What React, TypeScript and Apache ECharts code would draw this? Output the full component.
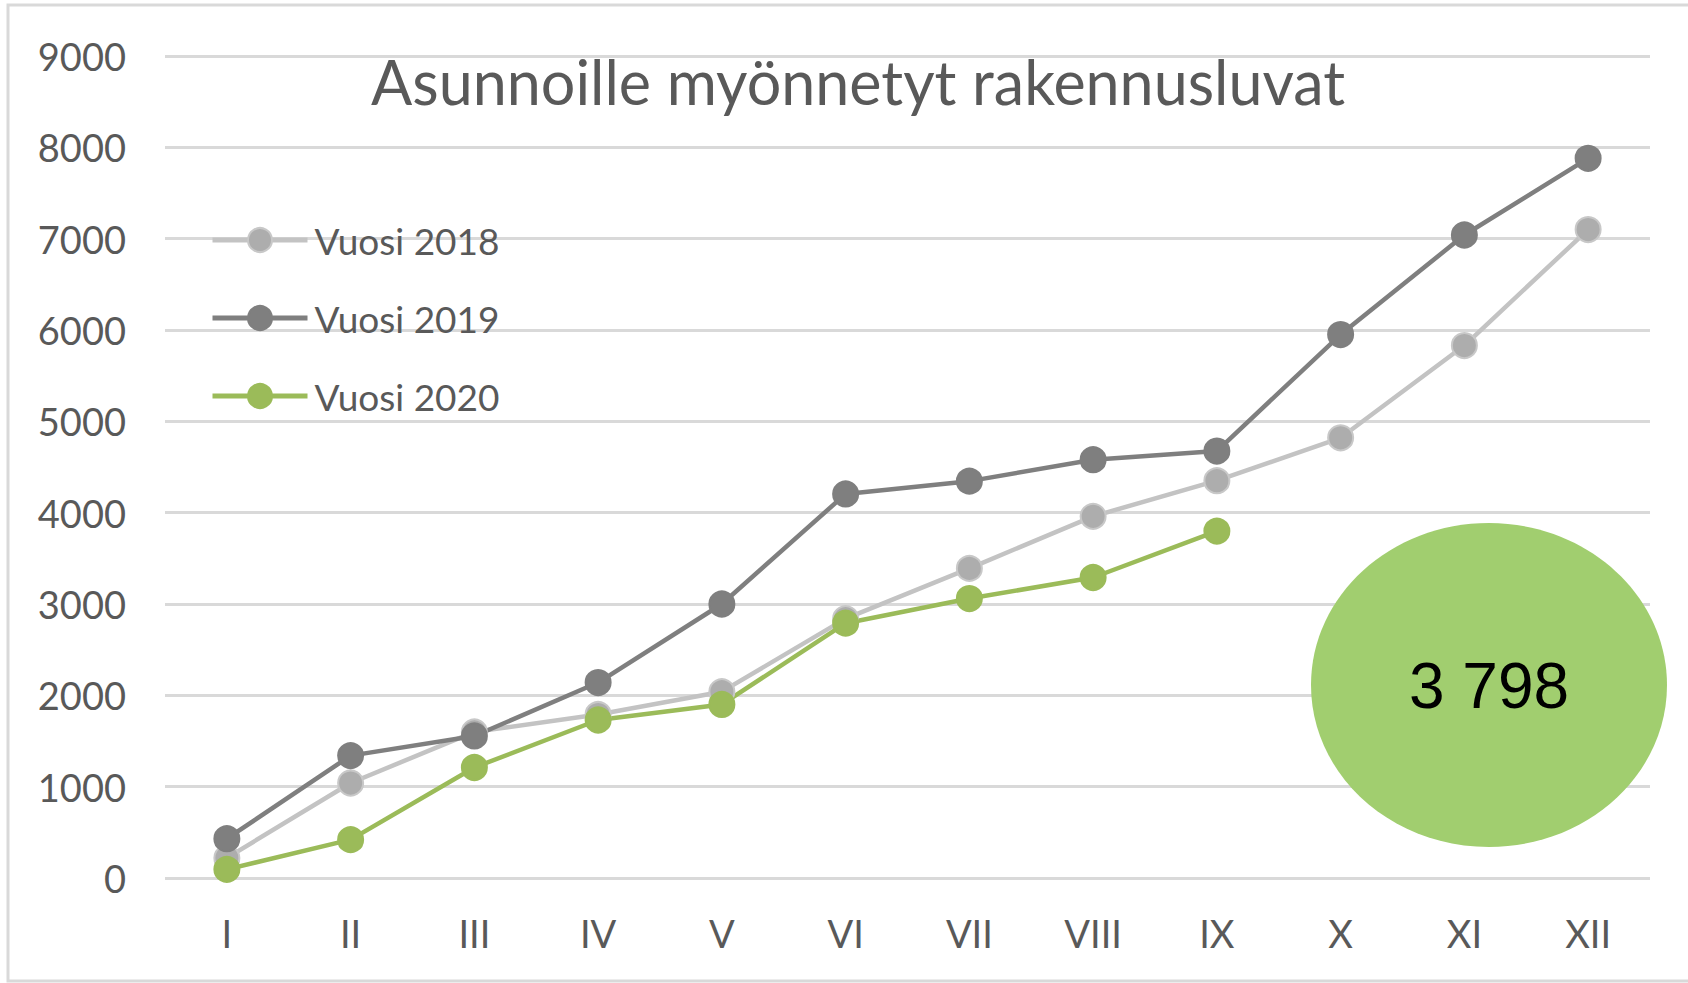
import React, { useEffect, useRef } from "react";
import * as echarts from "echarts";

const months = ["I", "II", "III", "IV", "V", "VI", "VII", "VIII", "IX", "X", "XI", "XII"];
const seriesNames = ["Vuosi 2018", "Vuosi 2019", "Vuosi 2020"];
const values2018 = [220, 1040, 1600, 1790, 2040, 2840, 3390, 3960, 4350, 4820, 5830, 7100];
const values2019 = [430, 1340, 1555, 2140, 3000, 4205, 4345, 4580, 4675, 5950, 7040, 7880];
const values2020 = [95, 420, 1210, 1730, 1900, 2790, 3060, 3290, 3798];
const yTicks = { min: 0, max: 9000, interval: 1000 };
const titleText = "Asunnoille myönnetyt rakennusluvat";

const FONT = "Lato, 'Open Sans', sans-serif";
const LABEL_COLOR = "#595959";

export default function App() {
  const ref = useRef<HTMLDivElement>(null);

  useEffect(() => {
    if (!ref.current) return;
    const chart = echarts.init(ref.current, undefined, { renderer: "svg" });
    const latest = values2020[values2020.length - 1];
    const latestText = String(latest).replace(/\B(?=(\d{3})+(?!\d))/g, " ");

    const lineSeries = (name: string, data: number[], line: string, fill: string, border: string) => ({
      name,
      type: "line",
      data,
      symbol: "circle",
      symbolSize: 25,
      lineStyle: { color: line, width: 4.5 },
      itemStyle: { color: fill, borderColor: border, borderWidth: 2 },
      emphasis: { disabled: true },
      z: 3,
    });

    const legendAt = (name: string, top: number) => ({
      show: true,
      data: [name],
      orient: "vertical",
      left: 210,
      top,
      itemWidth: 95,
      itemHeight: 30,
      itemGap: 0,
      padding: 0,
      selectedMode: false,
      lineStyle: { width: 5 },
      textStyle: { fontFamily: FONT, fontSize: 37, color: LABEL_COLOR, lineHeight: 40, padding: [0, 0, 0, 2] },
    });

    chart.setOption({
      animation: false,
      backgroundColor: "#ffffff",
      title: {
        text: titleText,
        left: 366,
        top: 46,
        textStyle: { fontFamily: FONT, fontSize: 61, fontWeight: "normal", color: LABEL_COLOR },
      },
      legend: [
        legendAt(seriesNames[0], 220),
        legendAt(seriesNames[1], 298),
        legendAt(seriesNames[2], 376),
      ],
      grid: { left: 165, right: 38, top: 56, bottom: 105, containLabel: false },
      xAxis: {
        type: "category",
        data: months,
        boundaryGap: true,
        axisLine: { show: false },
        axisTick: { show: false },
        axisLabel: { fontFamily: FONT, fontSize: 38, color: LABEL_COLOR, margin: 36 },
      },
      yAxis: {
        type: "value",
        min: yTicks.min,
        max: yTicks.max,
        interval: yTicks.interval,
        axisLine: { show: false },
        axisTick: { show: false },
        axisLabel: {
          fontFamily: FONT,
          fontSize: 38,
          color: LABEL_COLOR,
          margin: 39,
          formatter: (v: number) => String(v),
        },
        splitLine: { lineStyle: { color: "#D9D9D9", width: 3 } },
      },
      series: [
        lineSeries(seriesNames[0], values2018, "#C3C3C3", "#ADADAD", "#C8C8C8"),
        lineSeries(seriesNames[1], values2019, "#7F7F7F", "#7F7F7F", "#7F7F7F"),
        lineSeries(seriesNames[2], values2020, "#9BBB59", "#9BBB59", "#9BBB59"),
      ],
      graphic: [
        {
          type: "rect",
          shape: { x: 8, y: 5, width: 1720, height: 976 },
          style: { fill: "none", stroke: "#D9D9D9", lineWidth: 3 },
          silent: true,
          z: 1,
        },
        {
          type: "ellipse",
          shape: { cx: 1489, cy: 685, rx: 178, ry: 162 },
          style: { fill: "#A1CE6F" },
          z: 10,
        },
        {
          type: "text",
          x: 1489,
          y: 686,
          style: {
            text: latestText,
            fontFamily: "'Liberation Sans', Arial, sans-serif",
            fontSize: 64,
            fill: "#000000",
            textAlign: "center",
            textVerticalAlign: "middle",
          },
          z: 11,
        },
      ],
    });

    return () => chart.dispose();
  }, []);

  return (
    <div
      ref={ref}
      style={{ position: "fixed", left: 0, top: 0, width: 1688, height: 983, background: "#fff" }}
    />
  );
}
